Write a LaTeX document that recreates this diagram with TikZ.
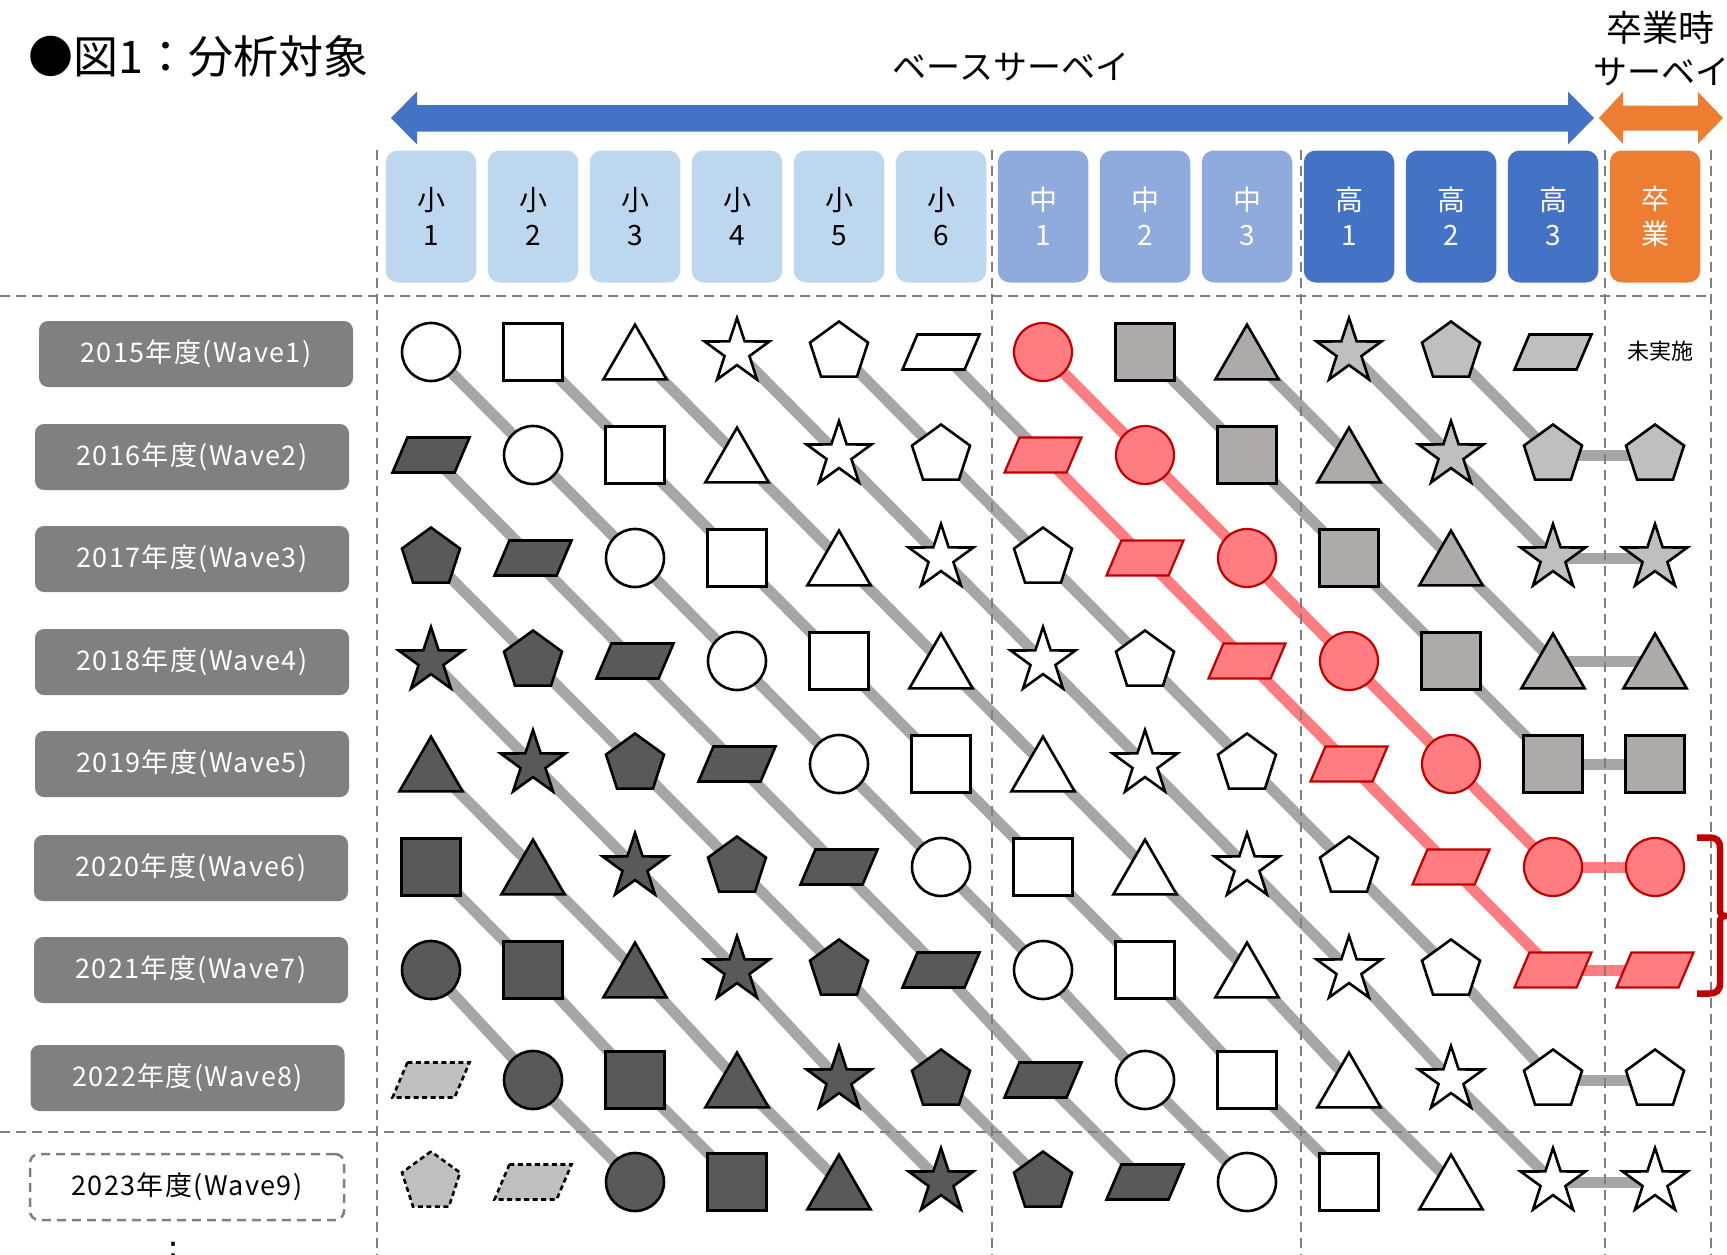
\documentclass[tikz,border=0pt]{standalone}
\usepackage{fontspec}
\setmainfont{Noto Sans CJK JP}
\newfontfamily\labfont[LetterSpace=5]{Noto Sans CJK JP}
\newfontfamily\djv{DejaVu Sans}
\usetikzlibrary{shapes.geometric}
\pgfdeclarelayer{bg}
\pgfdeclarelayer{mid}
\pgfsetlayers{bg,mid,main}
\definecolor{hdrA}{HTML}{BDD7EE}
\definecolor{hdrB}{HTML}{8FAADC}
\definecolor{hdrC}{HTML}{4472C4}
\definecolor{hdrD}{HTML}{ED7D31}
\definecolor{labgray}{HTML}{808080}
\definecolor{gridgray}{HTML}{7F7F7F}
\definecolor{conngray}{HTML}{A6A6A6}
\definecolor{redfill}{HTML}{FF7C80}
\definecolor{redline}{HTML}{C00000}
\definecolor{darkfill}{HTML}{595959}
\definecolor{grayfill}{HTML}{BFBFBF}
\definecolor{graybfill}{HTML}{AEAAAA}
\tikzset{
  shp/.style={draw=black, line width=2.6pt, inner sep=0pt, outer sep=0pt},
  sh0/.style={circle, minimum size=58pt},
  sh1/.style={rectangle, minimum width=59pt, minimum height=57pt},
  sh2/.style={regular polygon, regular polygon sides=3, minimum size=73pt, yshift=-9.1pt},
  sh3/.style={star, star points=5, star point ratio=2.6, minimum size=68pt},
  sh4/.style={regular polygon, regular polygon sides=5, minimum size=61pt},
  cwhite/.style={fill=white},
  cdark/.style={fill=darkfill},
  cgray/.style={fill=grayfill},
  cgrayb/.style={fill=graybfill},
  cred/.style={fill=redfill, draw=redline, line width=2.2pt},
  clight/.style={fill=grayfill, dash pattern=on 5pt off 3.5pt},
  conn/.style={draw=conngray, line width=11pt},
  connred/.style={draw=redfill, line width=11pt},
  grid/.style={draw=gridgray, line width=2pt, dash pattern=on 10pt off 6pt},
  hdr/.style={rounded corners=12pt, minimum width=90.5pt, minimum height=132pt, inner sep=0pt, align=center, font=\fontsize{28}{35}\selectfont},
  lab/.style={fill=labgray, text=white, rounded corners=9pt, minimum width=314pt, minimum height=66pt, inner sep=0pt, font=\labfont\fontsize{27}{30}\selectfont},
}
\begin{document}
\begin{tikzpicture}[x=1pt,y=-1pt]
\useasboundingbox (0,0) rectangle (1727,1255);

% titles
\node[font=\fontsize{45}{50}\selectfont, anchor=west, inner sep=0pt] (title) at (28,56) {●図1：分析対象};
\node[font=\fontsize{34}{40}\selectfont, inner sep=0pt] (base) at (1011,67) {ベースサーベイ};
\node[font=\fontsize{36}{40}\selectfont, inner sep=0pt] (grad1) at (1660,28) {卒業時};
\node[font=\fontsize{34}{40}\selectfont, inner sep=0pt] (grad2) at (1661,72) {サーベイ};

% arrows
\fill[hdrC] (391,118) -- (417,91.5) -- (417,105) -- (1568,105) -- (1568,91.5) -- (1594,118) -- (1568,144.5) -- (1568,131.5) -- (417,131.5) -- (417,144.5) -- cycle;
\fill[hdrD] (1599,118) -- (1623,92) -- (1623,105.5) -- (1698,105.5) -- (1698,92) -- (1723,118) -- (1698,144) -- (1698,130.5) -- (1623,130.5) -- (1623,144) -- cycle;

% header boxes
\foreach \col/\ta/\tb/\fc/\tc in {0/小/1/hdrA/black,1/小/2/hdrA/black,2/小/3/hdrA/black,3/小/4/hdrA/black,4/小/5/hdrA/black,5/小/6/hdrA/black,6/中/1/hdrB/white,7/中/2/hdrB/white,8/中/3/hdrB/white,9/高/1/hdrC/white,10/高/2/hdrC/white,11/高/3/hdrC/white,12/卒/業/hdrD/white}{
  \pgfmathtruncatemacro{\xx}{431+102*\col}
  \node[hdr, fill=\fc, text=\tc] (h-\col) at (\xx,216.5) {\ta\\\tb};
}

% grid lines
\begin{pgfonlayer}{mid}
\draw[grid] (0,296) -- (1711,296);
\draw[grid] (0,1132) -- (1711,1132);
\foreach \xx in {377,992,1301,1605,1711} \draw[grid] (\xx,150) -- (\xx,1258);
\end{pgfonlayer}

% cell coordinates
\foreach \row/\yy in {0/352,1/455,2/558,3/661,4/764,5/867,6/970,7/1080,8/1182}{
  \foreach \col in {0,...,12}{
    \pgfmathtruncatemacro{\xx}{431+102*\col}
    \coordinate (p-\row-\col) at (\xx,\yy);
  }
}

% shapes
\foreach \row in {0,...,8}{
  \foreach \col in {0,...,12}{
    \pgfmathtruncatemacro{\cm}{min(\col,11)}
    \pgfmathtruncatemacro{\kk}{\cm-\row}
    \pgfmathtruncatemacro{\sid}{mod(\kk+60,6)}
    \pgfmathtruncatemacro{\skipit}{and(\col==12,\row==0)}
    \ifnum\kk<-6 \def\ccat{light}\else
     \ifnum\kk<0 \def\ccat{dark}\else
      \ifnum\kk<5 \def\ccat{white}\else
       \ifnum\kk<7 \ifnum\cm>5 \def\ccat{red}\else\def\ccat{white}\fi\else
        \ifnum\sid=1 \def\ccat{grayb}\else\ifnum\sid=2 \def\ccat{grayb}\else\def\ccat{gray}\fi\fi
       \fi\fi\fi\fi
    \ifnum\skipit=0
      \ifnum\sid=5
        \edef\opts{shp,c\ccat,shift={(p-\row-\col)}}
        \expandafter\path\expandafter[\opts] (-23.6,-17.5) -- (38.5,-17.5) -- (23.6,17.5) -- (-38.5,17.5) -- cycle;
      \else
        \edef\opts{shp,sh\sid,c\ccat}
        \expandafter\node\expandafter[\opts] (s-\row-\col) at (p-\row-\col) {};
      \fi
    \fi
  }
}

% connectors
\begin{pgfonlayer}{bg}
\foreach \row in {0,...,7}{
  \foreach \col in {0,...,10}{
    \pgfmathtruncatemacro{\kk}{\col-\row}
    \pgfmathtruncatemacro{\rn}{\row+1}
    \pgfmathtruncatemacro{\cn}{\col+1}
    \pgfmathtruncatemacro{\isred}{and(or(\kk==5,\kk==6),\col>5)}
    \ifnum\kk>-7
      \ifnum\isred=1
        \draw[connred] (p-\row-\col) -- (p-\rn-\cn);
      \else
        \draw[conn] (p-\row-\col) -- (p-\rn-\cn);
      \fi
    \fi
  }
}
\foreach \row in {1,...,8}{
  \pgfmathtruncatemacro{\isred}{or(\row==5,\row==6)}
  \ifnum\isred=1
    \draw[connred] (p-\row-11) -- (p-\row-12);
  \else
    \draw[conn] (p-\row-11) -- (p-\row-12);
  \fi
}
\end{pgfonlayer}

\node[font=\fontsize{22}{24}\selectfont, inner sep=0pt] (mi) at (1660,351) {未実施};

% labels
\node[lab] (l0) at (196,354) {2015年度(Wave1)};
\node[lab] (l1) at (192,457) {2016年度(Wave2)};
\node[lab] (l2) at (192,559) {2017年度(Wave3)};
\node[lab] (l3) at (192,662) {2018年度(Wave4)};
\node[lab] (l4) at (192,764) {2019年度(Wave5)};
\node[lab] (l5) at (191,868) {2020年度(Wave6)};
\node[lab] (l6) at (191,970) {2021年度(Wave7)};
\node[lab] (l7) at (187.5,1078) {2022年度(Wave8)};
\node[lab, fill=white, text=black, draw=labgray, line width=2.5pt, dash pattern=on 9pt off 6pt] (l8) at (187,1187) {2023年度(Wave9)};
\node[font=\djv\fontsize{34}{34}\selectfont, anchor=base, inner sep=0pt] (dots) at (173,1266) {⋮};

% bracket
\draw[draw=redline, line width=6.5pt] (1697,837.5) -- (1709,837.5) .. controls (1716,837.5) and (1720,840) .. (1720,848) -- (1720,910) .. controls (1720,914) and (1722,916) .. (1726,916) .. controls (1722,916) and (1720,918) .. (1720,922) -- (1720,983) .. controls (1720,991) and (1716,993.5) .. (1709,993.5) -- (1697,993.5);
\end{tikzpicture}
\end{document}
